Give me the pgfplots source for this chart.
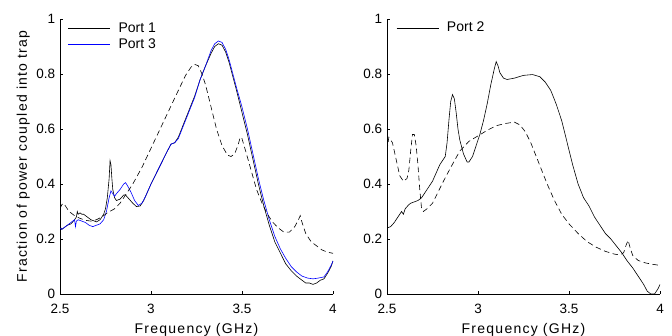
\documentclass[border=0pt]{standalone}
\usepackage{pgfplots}
\pgfplotsset{compat=1.18}
\usepackage{fontspec}
\setmainfont{Liberation Sans}
\newfontfamily\lblfont[LetterSpace=9]{Liberation Sans}
\begin{document}
\fontsize{14}{16}\selectfont
\begin{tikzpicture}
\path[use as bounding box] (0pt,0pt) rectangle (672pt,335pt);
\pgfplotsset{
  myax/.style={
    scale only axis, width=273pt, height=275pt,
    xmin=2.5, xmax=4, ymin=0, ymax=1,
    axis x line*=bottom, axis y line*=left,
    xtick={2.5,3,3.5,4}, xticklabels={2.5,3,3.5,4},
    ytick={0,0.2,0.4,0.6,0.8,1}, yticklabels={0,0.2,0.4,0.6,0.8,1},
    tick align=inside, major tick length=3pt,
    tick style={black, line width=0.5pt},
    axis line style={line width=0.6pt},
    /pgf/number format/assume math mode=true,
    ticklabel style={font=\fontsize{13.5}{15}\selectfont},
    xticklabel style={yshift=-5pt},
    label style={font=\lblfont\fontsize{14}{16}\selectfont},
    xlabel={Frequency (GHz)},
    xlabel style={yshift=0pt},
    legend style={draw=none, fill=none, font=\fontsize{14}{16}\selectfont, row sep=0pt, inner sep=1pt},
    legend cell align=left,
    legend image code/.code={\draw[#1] plot coordinates {(0pt,0pt) (21pt,0pt) (42pt,0pt)}; \path (48pt,0pt);},
    every axis plot/.append style={line width=0.6pt},
  },
  dsh/.style={black, dash pattern=on 5.5pt off 3.5pt, forget plot},
}
\begin{axis}[myax, at={(60pt,41pt)}, anchor=south west,
  ylabel={Fraction of power coupled into trap},
  ylabel style={yshift=-3pt},
  legend style={at={(0.025,0.998)}, anchor=north west}]
\addplot[black] coordinates {
(2.50,0.245)(2.51,0.235)(2.52,0.24)(2.54,0.25)(2.56,0.255)(2.58,0.27)(2.59,0.28)(2.595,0.30)(2.60,0.29)(2.61,0.295)(2.62,0.29)(2.63,0.29)(2.65,0.28)(2.67,0.27)(2.69,0.265)(2.70,0.262)(2.72,0.27)(2.74,0.29)(2.75,0.31)(2.76,0.35)(2.77,0.42)(2.775,0.485)(2.78,0.47)(2.785,0.42)(2.79,0.38)(2.80,0.35)(2.81,0.34)(2.83,0.345)(2.85,0.36)(2.86,0.36)(2.88,0.345)(2.90,0.33)(2.92,0.318)(2.94,0.32)(2.96,0.34)(2.98,0.37)(3.00,0.40)(3.03,0.44)(3.06,0.48)(3.09,0.52)(3.11,0.545)(3.13,0.55)(3.15,0.57)(3.18,0.62)(3.21,0.67)(3.24,0.72)(3.27,0.78)(3.30,0.83)(3.33,0.875)(3.35,0.90)(3.37,0.91)(3.39,0.905)(3.41,0.88)(3.43,0.84)(3.45,0.79)(3.47,0.74)(3.50,0.66)(3.53,0.58)(3.56,0.49)(3.59,0.40)(3.62,0.32)(3.65,0.25)(3.68,0.19)(3.71,0.15)(3.74,0.11)(3.77,0.085)(3.80,0.065)(3.83,0.05)(3.85,0.04)(3.87,0.04)(3.89,0.035)(3.91,0.04)(3.93,0.05)(3.95,0.055)(3.97,0.075)(3.99,0.10)(4.00,0.12)};
\addlegendentry{Port 1}
\addplot[blue] coordinates {
(2.50,0.24)(2.51,0.235)(2.53,0.245)(2.55,0.255)(2.57,0.265)(2.58,0.27)(2.585,0.245)(2.59,0.265)(2.60,0.27)(2.62,0.265)(2.64,0.26)(2.66,0.25)(2.68,0.245)(2.70,0.25)(2.72,0.255)(2.74,0.27)(2.755,0.30)(2.77,0.35)(2.78,0.375)(2.79,0.365)(2.80,0.355)(2.81,0.365)(2.83,0.38)(2.85,0.40)(2.86,0.405)(2.87,0.395)(2.89,0.37)(2.91,0.34)(2.93,0.322)(2.95,0.33)(2.97,0.355)(3.00,0.40)(3.03,0.44)(3.06,0.48)(3.09,0.52)(3.11,0.545)(3.13,0.55)(3.15,0.565)(3.18,0.615)(3.21,0.665)(3.24,0.715)(3.27,0.78)(3.30,0.83)(3.33,0.885)(3.35,0.91)(3.37,0.92)(3.39,0.915)(3.41,0.89)(3.43,0.85)(3.45,0.80)(3.47,0.75)(3.50,0.68)(3.53,0.60)(3.56,0.51)(3.59,0.42)(3.62,0.34)(3.65,0.27)(3.68,0.21)(3.71,0.165)(3.74,0.13)(3.77,0.10)(3.80,0.08)(3.83,0.065)(3.86,0.058)(3.89,0.055)(3.92,0.058)(3.95,0.062)(3.97,0.08)(3.99,0.105)(4.00,0.12)};
\addlegendentry{Port 3}
\addplot[dsh] coordinates {
(2.50,0.31)(2.51,0.325)(2.52,0.33)(2.53,0.32)(2.55,0.30)(2.58,0.285)(2.61,0.275)(2.64,0.268)(2.67,0.265)(2.70,0.27)(2.73,0.28)(2.76,0.295)(2.80,0.31)(2.83,0.33)(2.86,0.36)(2.90,0.40)(2.95,0.46)(3.00,0.53)(3.05,0.60)(3.10,0.67)(3.15,0.74)(3.19,0.795)(3.22,0.825)(3.24,0.835)(3.26,0.83)(3.28,0.80)(3.30,0.76)(3.33,0.68)(3.36,0.60)(3.39,0.54)(3.42,0.505)(3.44,0.50)(3.46,0.51)(3.48,0.545)(3.49,0.57)(3.50,0.565)(3.52,0.52)(3.55,0.45)(3.58,0.38)(3.61,0.33)(3.64,0.29)(3.67,0.26)(3.70,0.24)(3.73,0.225)(3.76,0.225)(3.79,0.245)(3.81,0.27)(3.82,0.285)(3.83,0.26)(3.85,0.22)(3.88,0.19)(3.91,0.175)(3.94,0.16)(3.97,0.152)(4.00,0.148)};
\end{axis}
\begin{axis}[myax, at={(387pt,41pt)}, anchor=south west,
  legend style={at={(0.03,1.0)}, anchor=north west}]
\addplot[black] coordinates {
(2.50,0.24)(2.52,0.245)(2.54,0.26)(2.56,0.28)(2.58,0.30)(2.59,0.29)(2.60,0.31)(2.62,0.325)(2.63,0.33)(2.65,0.335)(2.67,0.34)(2.69,0.35)(2.71,0.37)(2.73,0.39)(2.75,0.41)(2.77,0.44)(2.79,0.47)(2.81,0.49)(2.82,0.50)(2.83,0.55)(2.84,0.63)(2.85,0.70)(2.86,0.725)(2.87,0.71)(2.88,0.66)(2.89,0.60)(2.90,0.56)(2.92,0.51)(2.94,0.48)(2.95,0.48)(2.97,0.50)(2.99,0.54)(3.01,0.58)(3.03,0.63)(3.05,0.69)(3.07,0.76)(3.09,0.82)(3.10,0.845)(3.11,0.83)(3.12,0.805)(3.14,0.785)(3.16,0.78)(3.20,0.785)(3.25,0.795)(3.30,0.798)(3.34,0.79)(3.37,0.77)(3.40,0.74)(3.43,0.69)(3.46,0.63)(3.49,0.55)(3.52,0.47)(3.55,0.40)(3.58,0.35)(3.61,0.32)(3.64,0.28)(3.67,0.25)(3.70,0.22)(3.73,0.20)(3.76,0.175)(3.79,0.15)(3.82,0.12)(3.85,0.095)(3.88,0.065)(3.91,0.035)(3.93,0.01)(3.95,0.0)(3.97,0.0)(3.99,0.02)(4.00,0.035)};
\addlegendentry{Port 2}
\addplot[dsh] coordinates {
(2.50,0.52)(2.51,0.57)(2.53,0.55)(2.55,0.49)(2.57,0.43)(2.59,0.41)(2.61,0.42)(2.62,0.45)(2.63,0.52)(2.64,0.58)(2.65,0.58)(2.66,0.54)(2.67,0.47)(2.68,0.38)(2.69,0.31)(2.70,0.30)(2.72,0.31)(2.75,0.33)(2.78,0.37)(2.81,0.41)(2.85,0.46)(2.90,0.52)(2.95,0.555)(3.00,0.575)(3.05,0.595)(3.10,0.612)(3.15,0.62)(3.20,0.625)(3.23,0.615)(3.26,0.59)(3.29,0.55)(3.32,0.50)(3.35,0.45)(3.38,0.40)(3.42,0.34)(3.46,0.29)(3.50,0.255)(3.55,0.22)(3.60,0.19)(3.65,0.17)(3.70,0.155)(3.75,0.145)(3.78,0.142)(3.80,0.15)(3.815,0.18)(3.825,0.195)(3.835,0.17)(3.85,0.14)(3.88,0.122)(3.92,0.113)(3.96,0.108)(4.00,0.104)};
\end{axis}
\end{tikzpicture}
\end{document}
